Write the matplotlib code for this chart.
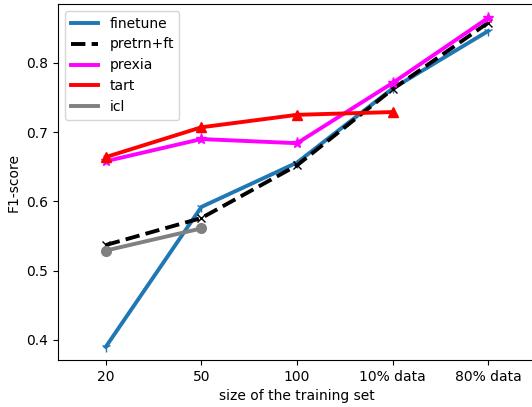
import matplotlib.pyplot as plt
from matplotlib.lines import Line2D

# tailles du jeu d'entrainement
tailles = ["20", "50", "100", "10% data", "80% data"]

finetune = [0.390, 0.592, 0.656, 0.763, 0.846]
pretrn_ft = [0.537, 0.576, 0.652, 0.762, 0.858]
prexia = [0.658, 0.690, 0.684, 0.771, 0.865]
tart = [0.664, 0.707, 0.725, 0.729]
icl = [0.529, 0.561]

fig = plt.figure(figsize=(5.32, 4.07), dpi=100)
ax = fig.add_axes([58 / 532, 47 / 407, 478 / 532, 356 / 407])

x = list(range(len(tailles)))
series = [
    ("finetune", finetune, "1", 7, "tab:blue", "-"),
    ("pretrn+ft", pretrn_ft, "x", 6, "black", "--"),
    ("prexia", prexia, "*", 8, "magenta", "-"),
    ("tart", tart, "^", 7, "red", "-"),
    ("icl", icl, "o", 7, "gray", "-"),
]

handles = []
for nom, vals, mk, ms, col, ls in series:
    ax.plot(x[:len(vals)], vals, marker=mk, markersize=ms, color=col, linestyle=ls, linewidth=2.8)
    handles.append(Line2D([], [], color=col, linestyle=ls, linewidth=2.8, label=nom))

ax.set_xticks(x)
ax.set_xticklabels(tailles)
ax.set_xlim(-0.5, 4.5)
ax.set_ylim(0.371, 0.885)
ax.set_yticks([0.4, 0.5, 0.6, 0.7, 0.8])
ax.set_xlabel("size of the training set")
ax.set_ylabel("F1-score")
ax.legend(handles=handles, loc="upper left")

fig.savefig("out.png", dpi=100)
